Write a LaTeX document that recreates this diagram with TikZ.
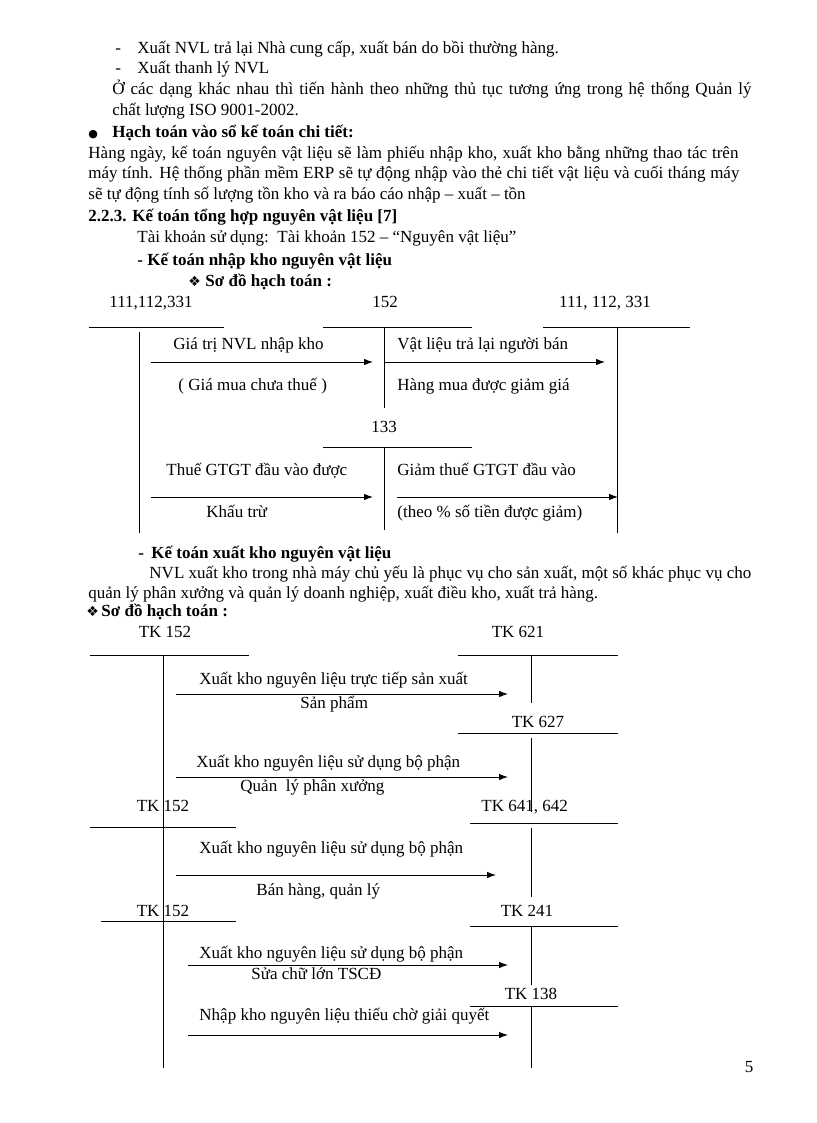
\documentclass[tikz,border=0pt]{standalone}
\usepackage{fontspec}
\setmainfont{Liberation Serif}
\newfontfamily\symfont{DejaVu Sans}
\usetikzlibrary{arrows.meta}
\newcommand\pagefont{\fontsize{17}{21}\selectfont}
\tikzset{
  txt/.style={anchor=base west, inner sep=0pt, yshift=-5pt, font=\pagefont},
  hd/.style={txt, font=\pagefont\bfseries},
  acc/.style={anchor=base, inner sep=0pt, yshift=-5pt, font=\pagefont},
  mark sym/.style={txt, font=\symfont\fontsize{14}{14}\selectfont},
  ent/.style={-{Latex[length=9pt,width=6.5pt]}},
}
\begin{document}
\begin{tikzpicture}[x=1pt,y=-1pt,line width=0.9pt]
  \useasboundingbox (0,0) rectangle (816,1123);
  % text before the first scheme
  \draw
    (115,49) node[txt] (d1) {-}
    (137,49) node[txt] (p1) {Xuất NVL trả lại Nhà cung cấp, xuất bán do bồi thường hàng.}
    (115,69) node[txt] (d2) {-}
    (137,69) node[txt] (p2) {Xuất thanh lý NVL}
    (112,90) node[txt] (p3) {\makebox[639pt][s]{Ở các dạng khác nhau thì tiến hành theo những thủ tục tương ứng trong hệ thống Quản lý}}
    (112,111) node[txt] (p4) {chất lượng ISO 9001-2002.}
    (88,133) node[txt, font=\symfont\fontsize{11}{11}\selectfont] (b5) {●}
    (112,133) node[hd] (p5) {Hạch toán vào sổ kế toán chi tiết:}
    (88,154) node[txt] (p6) {\makebox[650pt][s]{Hàng ngày, kế toán nguyên vật liệu sẽ làm phiếu nhập kho, xuất kho bằng những thao tác trên}}
    (88,174) node[txt] (p7) {\makebox[651pt][s]{máy tính. Hệ thống phần mềm ERP sẽ tự động nhập vào thẻ chi tiết vật liệu và cuối tháng máy}}
    (88,195) node[txt] (p8) {sẽ tự động tính số lượng tồn kho và ra báo cáo nhập – xuất – tồn}
    (88,217) node[hd] (p9) {2.2.3. Kế toán tổng hợp nguyên vật liệu [7]}
    (137,238) node[txt] (p10) {Tài khoản sử dụng:\ \ Tài khoản 152 – “Nguyên vật liệu”}
    (137,260) node[hd] (p11) {- Kế toán nhập kho nguyên vật liệu}
    (188,281) node[mark sym] (s12) {❖}
    (205,281) node[hd] (p12) {Sơ đồ hạch toán :};
  % first scheme: accounts
  \draw
    (151,302) node[acc] (k111) {111,112,331}
    (385,302) node[acc] (k152) {152}
    (605,302) node[acc] (k111r) {111, 112, 331}
    (384,427) node[acc] (k133) {133};
  \coordinate (k111l) at (89,327);   \coordinate (k111e) at (224,327);
  \coordinate (k111t) at (139,332);  \coordinate (k111b) at (139,533);
  \coordinate (k152l) at (323,327);  \coordinate (k152e) at (472,327);
  \coordinate (k152t) at (384,327);  \coordinate (k152b) at (384,408);
  \coordinate (k111rl) at (543,327); \coordinate (k111re) at (690,327);
  \coordinate (k111rt) at (617,327); \coordinate (k111rb) at (617,533);
  \coordinate (k133l) at (323,447);  \coordinate (k133e) at (472,447);
  \coordinate (k133t) at (384,447);  \coordinate (k133b) at (384,530);
  \begin{scope}[-]
    \draw (k111l) to (k111e);
    \draw (k111t) to (k111b);
    \draw (k152l) to (k152e);
    \draw (k152t) to (k152b);
    \draw (k111rl) to (k111re);
    \draw (k111rt) to (k111rb);
    \draw (k133l) to (k133e);
    \draw (k133t) to (k133b);
  \end{scope}
  % first scheme: entries
  \coordinate (n1s) at (151,362); \coordinate (n1e) at (373,362);
  \coordinate (n2s) at (384,362); \coordinate (n2e) at (605,362);
  \coordinate (n3s) at (151,497); \coordinate (n3e) at (373,497);
  \coordinate (n4s) at (397,497); \coordinate (n4e) at (618,497);
  \begin{scope}[ent]
    \draw (n1s) to (n1e);
    \draw (n2s) to (n2e);
    \draw (n3s) to (n3e);
    \draw (n4s) to (n4e);
  \end{scope}
  \draw
    (173,344) node[txt] (n1a) {Giá trị NVL nhập kho}
    (178,385) node[txt] (n1b) {( Giá mua chưa thuế )}
    (397,344) node[txt] (n2a) {Vật liệu trả lại người bán}
    (397,385) node[txt] (n2b) {Hàng mua được giảm giá}
    (166,470) node[txt] (n3a) {Thuế GTGT đầu vào được}
    (206,512) node[txt] (n3b) {Khấu trừ}
    (397,470) node[txt] (n4a) {Giảm thuế GTGT đầu vào}
    (397,512) node[txt] (n4b) {(theo \% số tiền được giảm)};
  % text before the second scheme
  \draw
    (138,553) node[hd] (d13) {-}
    (151,553) node[hd] (p13) {Kế toán xuất kho nguyên vật liệu}
    (149,573) node[txt] (p14) {\makebox[602pt][s]{NVL xuất kho trong nhà máy chủ yếu là phục vụ cho sản xuất, một số khác phục vụ cho}}
    (88,593) node[txt] (p15) {quản lý phân xưởng và quản lý doanh nghiệp, xuất điều kho, xuất trả hàng.}
    (86,611) node[mark sym] (s16) {❖}
    (101,611) node[hd] (p16) {Sơ đồ hạch toán :};
  % second scheme: accounts
  \draw
    (165,632) node[acc] (t152a) {TK 152}
    (518,632) node[acc] (t621) {TK 621}
    (538,722) node[acc] (t627) {TK 627}
    (163,806) node[acc] (t152b) {TK 152}
    (481,806) node[txt] (t641) {TK 641, 642}
    (163,911) node[acc] (t152c) {TK 152}
    (527,911) node[acc] (t241) {TK 241}
    (531,994) node[acc] (t138) {TK 138};
  \coordinate (t152al) at (90,655);  \coordinate (t152ae) at (249,655);
  \coordinate (t152at) at (163,655); \coordinate (t152ab) at (163,1068);
  \coordinate (t152bl) at (90,827);  \coordinate (t152be) at (236,827);
  \coordinate (t152cl) at (101,921); \coordinate (t152ce) at (236,921);
  \coordinate (t621l) at (458,655);  \coordinate (t621e) at (618,655);
  \coordinate (t621t) at (531,655);  \coordinate (t621b) at (531,703);
  \coordinate (t627l) at (458,733);  \coordinate (t627e) at (618,733);
  \coordinate (t627t) at (531,738);  \coordinate (t627b) at (531,812);
  \coordinate (t641l) at (470,823);  \coordinate (t641e) at (618,823);
  \coordinate (t641t) at (531,828);  \coordinate (t641b) at (531,897);
  \coordinate (t241l) at (470,926);  \coordinate (t241e) at (618,926);
  \coordinate (t241t) at (531,927);  \coordinate (t241b) at (531,985);
  \coordinate (t138l) at (470,1006); \coordinate (t138e) at (618,1006);
  \coordinate (t138t) at (531,1006); \coordinate (t138b) at (531,1068);
  \begin{scope}[-]
    \draw (t152al) to (t152ae);
    \draw (t152at) to (t152ab);
    \draw (t152bl) to (t152be);
    \draw (t152cl) to (t152ce);
    \draw (t621l) to (t621e);
    \draw (t621t) to (t621b);
    \draw (t627l) to (t627e);
    \draw (t627t) to (t627b);
    \draw (t641l) to (t641e);
    \draw (t641t) to (t641b);
    \draw (t241l) to (t241e);
    \draw (t241t) to (t241b);
    \draw (t138l) to (t138e);
    \draw (t138t) to (t138b);
  \end{scope}
  % second scheme: entries
  \coordinate (x1s) at (176,694);  \coordinate (x1e) at (508,694);
  \coordinate (x2s) at (176,777);  \coordinate (x2e) at (508,777);
  \coordinate (x3s) at (176,875);  \coordinate (x3e) at (496,875);
  \coordinate (x4s) at (188,965);  \coordinate (x4e) at (508,965);
  \coordinate (x5s) at (188,1035); \coordinate (x5e) at (508,1035);
  \begin{scope}[ent]
    \draw (x1s) to (x1e);
    \draw (x2s) to (x2e);
    \draw (x3s) to (x3e);
    \draw (x4s) to (x4e);
    \draw (x5s) to (x5e);
  \end{scope}
  \draw
    (199,679) node[txt] (x1a) {Xuất kho nguyên liệu trực tiếp sản xuất}
    (300,703) node[txt] (x1b) {Sản phẩm}
    (196,762) node[txt] (x2a) {Xuất kho nguyên liệu sử dụng bộ phận}
    (240,786) node[txt] (x2b) {Quản\ \ lý phân xưởng}
    (199,848) node[txt] (x3a) {Xuất kho nguyên liệu sử dụng bộ phận}
    (256,890) node[txt] (x3b) {Bán hàng, quản lý}
    (199,953) node[txt] (x4a) {Xuất kho nguyên liệu sử dụng bộ phận}
    (251,974) node[txt] (x4b) {Sửa chữ lớn TSCĐ}
    (199,1015) node[txt] (x5a) {Nhập kho nguyên liệu thiếu chờ giải quyết};
  \node[acc] (pg) at (749,1067) {5};
\end{tikzpicture}
\end{document}
